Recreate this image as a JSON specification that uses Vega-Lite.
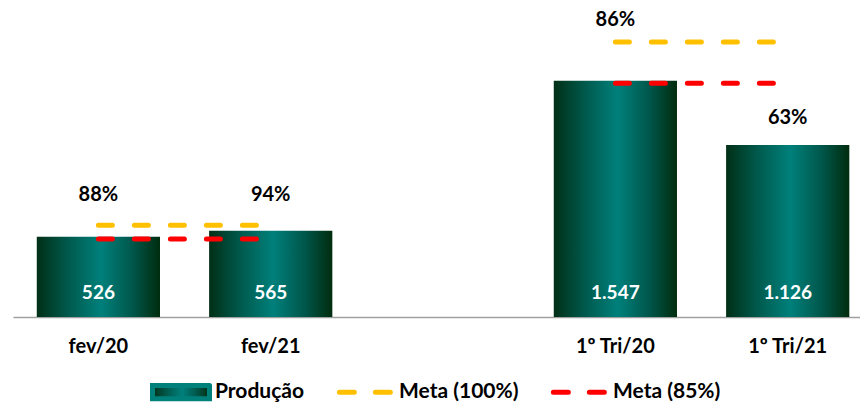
{
  "$schema": "https://vega.github.io/schema/vega-lite/v6.json",
  "width": 847,
  "height": 317,
  "padding": {"left": 13, "top": 0, "right": 0, "bottom": 0},
  "autosize": {"type": "pad"},
  "background": "white",
  "config": {
    "view": {"stroke": null},
    "font": "Lato",
    "locale": {"number": {"decimal": ",", "thousands": ".", "grouping": [3], "currency": ["R$", ""]}}
  },
  "datasets": {
    "barras": [
      {"cat": "fev/20", "producao": 526, "meta": 600, "pct": 0.88},
      {"cat": "fev/21", "producao": 565, "meta": 600, "pct": 0.94},
      {"cat": "1º Tri/20", "producao": 1547, "meta": 1800, "pct": 0.86},
      {"cat": "1º Tri/21", "producao": 1126, "meta": 1800, "pct": 0.63}
    ],
    "metas": [
      {"cat": "fev/20", "grupo": "fev", "serie": "Meta (100%)", "valor": 600},
      {"cat": "fev/21", "grupo": "fev", "serie": "Meta (100%)", "valor": 600},
      {"cat": "fev/20", "grupo": "fev", "serie": "Meta (85%)", "valor": 510},
      {"cat": "fev/21", "grupo": "fev", "serie": "Meta (85%)", "valor": 510},
      {"cat": "1º Tri/20", "grupo": "tri", "serie": "Meta (100%)", "valor": 1800},
      {"cat": "1º Tri/21", "grupo": "tri", "serie": "Meta (100%)", "valor": 1800},
      {"cat": "1º Tri/20", "grupo": "tri", "serie": "Meta (85%)", "valor": 1530},
      {"cat": "1º Tri/21", "grupo": "tri", "serie": "Meta (85%)", "valor": 1530}
    ]
  },
  "encoding": {
    "x": {
      "field": "cat",
      "type": "nominal",
      "scale": {
        "domain": ["fev/20", "fev/21", " ", "1º Tri/20", "1º Tri/21"],
        "paddingInner": 0.285,
        "paddingOuter": 0.1,
        "align": 0.69
      },
      "axis": {
        "title": null,
        "labelAngle": 0,
        "ticks": false,
        "grid": false,
        "domainColor": "#a0a0a0",
        "domainWidth": 1.5,
        "labelFont": "Lato",
        "labelFontSize": 20,
        "labelFontWeight": "bold",
        "labelColor": "#000000",
        "labelPadding": 19
      }
    }
  },
  "layer": [
    {
      "data": {"name": "barras"},
      "mark": {
        "type": "bar",
        "fill": {
          "gradient": "linear",
          "x1": 0, "y1": 0, "x2": 1, "y2": 0,
          "stops": [
            {"offset": 0, "color": "#002f16"},
            {"offset": 0.25, "color": "#00594c"},
            {"offset": 0.52, "color": "#00807b"},
            {"offset": 0.78, "color": "#00564a"},
            {"offset": 1, "color": "#002c0e"}
          ]
        }
      },
      "encoding": {
        "y": {"field": "producao", "type": "quantitative", "scale": {"domain": [0, 2075], "nice": false}, "axis": null}
      }
    },
    {
      "data": {"name": "barras"},
      "mark": {"type": "text", "color": "white", "fontSize": 19, "fontWeight": "bold", "baseline": "middle", "dy": -24},
      "encoding": {
        "y": {"datum": 0, "type": "quantitative"},
        "text": {"field": "producao", "type": "quantitative", "format": ",d"}
      }
    },
    {
      "data": {"name": "metas"},
      "mark": {"type": "line", "strokeWidth": 5, "strokeDash": [14, 22], "strokeCap": "round"},
      "encoding": {
        "y": {"field": "valor", "type": "quantitative"},
        "detail": {"field": "grupo"},
        "color": {
          "field": "serie",
          "type": "nominal",
          "scale": {"domain": ["Produção", "Meta (100%)", "Meta (85%)"], "range": ["#00807b", "#FFC000", "#FF0000"]},
          "legend": {
            "title": null,
            "orient": "none",
            "direction": "horizontal",
            "legendX": 137,
            "legendY": 361,
            "symbolSize": 3249,
            "columnPadding": 21,
            "labelOffset": 3,
            "labelFont": "Lato",
            "labelFontSize": 21,
            "labelFontWeight": "bold",
            "labelColor": "#000000",
            "labelLimit": 300,
            "encode": {
              "symbols": {
                "update": {
                  "shape": [
                    {"test": "datum.value === 'Produção'", "value": "M-1,-0.234H1V0.234H-1Z"},
                    {"value": "M-1,-0.234M1,0.234M-0.9,0H0.9"}
                  ],
                  "size": {"value": 3249},
                  "fill": [
                    {"test": "datum.value === 'Produção'", "value": {
                      "gradient": "linear", "x1": 0, "y1": 0, "x2": 1, "y2": 0,
                      "stops": [
                        {"offset": 0, "color": "#002f16"},
                        {"offset": 0.25, "color": "#00594c"},
                        {"offset": 0.52, "color": "#00807b"},
                        {"offset": 0.78, "color": "#00564a"},
                        {"offset": 1, "color": "#002c0e"}
                      ]
                    }},
                    {"value": "transparent"}
                  ],
                  "stroke": [
                    {"test": "datum.value === 'Meta (100%)'", "value": "#FFC000"},
                    {"test": "datum.value === 'Meta (85%)'", "value": "#FF0000"},
                    {"value": "transparent"}
                  ],
                  "strokeWidth": {"value": 5},
                  "strokeDash": [
                    {"test": "datum.value !== 'Produção'", "value": [15, 21]},
                    {"value": [1, 0]}
                  ],
                  "strokeCap": {"value": "round"},
                  "opacity": {"value": 1}
                }
              }
            }
          }
        }
      }
    },
    {
      "data": {"name": "barras"},
      "transform": [{"filter": "datum.cat === 'fev/20' || datum.cat === 'fev/21'"}],
      "mark": {"type": "text", "color": "#000000", "fontSize": 20, "fontWeight": "bold", "baseline": "middle", "dy": -30},
      "encoding": {
        "y": {"field": "meta", "type": "quantitative"},
        "text": {"field": "pct", "type": "quantitative", "format": ".0%"}
      }
    },
    {
      "data": {"name": "barras"},
      "transform": [{"filter": "datum.cat === '1º Tri/20'"}],
      "mark": {"type": "text", "color": "#000000", "fontSize": 20, "fontWeight": "bold", "baseline": "middle", "dy": -22},
      "encoding": {
        "y": {"field": "meta", "type": "quantitative"},
        "text": {"field": "pct", "type": "quantitative", "format": ".0%"}
      }
    },
    {
      "data": {"name": "barras"},
      "transform": [{"filter": "datum.cat === '1º Tri/21'"}],
      "mark": {"type": "text", "color": "#000000", "fontSize": 20, "fontWeight": "bold", "baseline": "middle", "dy": -27},
      "encoding": {
        "y": {"field": "producao", "type": "quantitative"},
        "text": {"field": "pct", "type": "quantitative", "format": ".0%"}
      }
    }
  ]
}
